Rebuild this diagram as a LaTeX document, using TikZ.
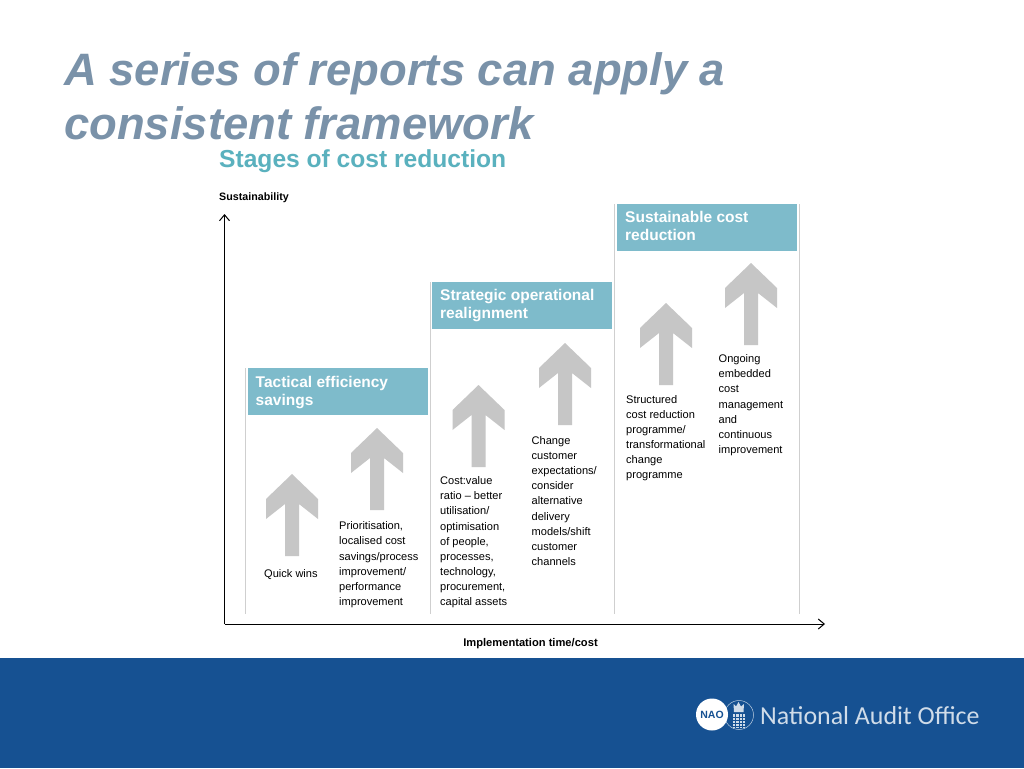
\documentclass[tikz,border=0pt]{standalone}
\usepackage{fontspec}
\setmainfont{Liberation Sans}
\newfontfamily\logofont{Carlito}
\definecolor{titleblue}{HTML}{7A92A9}
\definecolor{subteal}{HTML}{5AB1BE}
\definecolor{headteal}{HTML}{7EBBCB}
\definecolor{arrowgrey}{HTML}{C6C6C6}
\definecolor{sepgrey}{HTML}{CFCFCF}
\definecolor{bandblue}{HTML}{165192}
\newcommand{\fs}[1]{\fontsize{#1}{#1}\selectfont}
\usetikzlibrary{arrows.meta}
\tikzset{
  x=1pt,y=-1pt,
  titletext/.style={anchor=base west,inner sep=0,text=titleblue,font=\fs{45.4}\bfseries\itshape},
  headbox/.style={fill=headteal,minimum width=180pt,minimum height=47pt,anchor=north west,inner sep=0},
  headtext/.style={anchor=north west,inner sep=0,text=white,align=left,font=\fs{15.5}\bfseries,execute at begin node={\baselineskip=18pt}},
  bodytext/.style={anchor=north west,inner sep=0,align=left,text=black,font=\fs{11.05},execute at begin node={\baselineskip=15.18pt}},
  axislabel/.style={inner sep=0,text=black},
  sepline/.style={draw=sepgrey,line width=1pt},
  axisline/.style={draw=black,line width=1pt,-{Straight Barb[length=6pt,width=10pt]}},
  uparrow/.pic={\fill[arrowgrey] (0,0)--(26,25)--(26,45)--(7,30)--(7,82)--(-7,82)--(-7,30)--(-26,45)--(-26,25)--cycle;},
  crestline/.style={draw=bandblue,line width=.4pt}
}
\begin{document}
\begin{tikzpicture}
\useasboundingbox (0,0) rectangle (1024,768);
\fill[white] (0,0) rectangle (1024,768);
\fill[bandblue] (0,658) rectangle (1024,768);
\node[titletext] (t1) at (64,85) {A series of reports can apply a};
\node[titletext] (t2) at (64,139) {consistent framework};
\node[anchor=base west,inner sep=0,text=subteal,font=\fs{24.6}\bfseries] (sub) at (219,167) {Stages of cost reduction};
\node[axislabel,anchor=base west,font=\fs{10.7}\bfseries] (ylab) at (219,200) {Sustainability};
\node[axislabel,anchor=base,font=\fs{11.15}\bfseries] (xlab) at (530.5,646) {Implementation time/cost};
% separators
\coordinate (s1t) at (245.5,368); \coordinate (s1b) at (245.5,614);
\coordinate (s2t) at (430.5,282); \coordinate (s2b) at (430.5,614);
\coordinate (s3t) at (614.5,204); \coordinate (s3b) at (614.5,614);
\coordinate (s4t) at (799.2,204); \coordinate (s4b) at (799.2,614);
\draw[sepline] (s1t)--(s1b);
\draw[sepline] (s2t)--(s2b);
\draw[sepline] (s3t)--(s3b);
\draw[sepline] (s4t)--(s4b);
% axes
\coordinate (o) at (224.5,624); \coordinate (ya) at (224.5,214); \coordinate (xa) at (825,624);
\draw[axisline] (o)--(ya);
\draw[axisline] (o)--(xa);
% headers
\node[headbox] (h1) at (248,368) {};
\node[headbox] (h2) at (432,282) {};
\node[headbox] (h3) at (617,204) {};
\node[headtext] (h1t) at (255.5,375.7) {Tactical efficiency\\savings};
\node[headtext] (h2t) at (440,289.3) {Strategic operational\\realignment};
\node[headtext] (h3t) at (625,211.5) {Sustainable cost\\reduction};
% arrows
\pic at (292,474) {uparrow};
\pic at (377,428) {uparrow};
\pic at (478.5,385) {uparrow};
\pic at (565,343) {uparrow};
\pic at (666,303) {uparrow};
\pic at (751,263) {uparrow};
% body
\node[bodytext] (b1) at (264,569.5) {Quick wins};
\node[bodytext] (b2) at (339,521.5) {Prioritisation,\\localised cost\\savings/process\\improvement/\\performance\\improvement};
\node[bodytext] (b3) at (440,476.3) {Cost:value\\ratio – better\\utilisation/\\optimisation\\of people,\\processes,\\technology,\\procurement,\\capital assets};
\node[bodytext] (b4) at (531.5,436) {Change\\customer\\expectations/\\consider\\alternative\\delivery\\models/shift\\customer\\channels};
\node[bodytext] (b5) at (626,394.8) {Structured\\cost reduction\\programme/\\transformational\\change\\programme};
\node[bodytext] (b6) at (718.5,354.3) {Ongoing\\embedded\\cost\\management\\and\\continuous\\improvement};
% logo
\node[circle,draw=white!70!bandblue,line width=.5pt,minimum size=29pt,inner sep=0] (crest) at (739,715) {};
\node[circle,fill=white,minimum size=32pt,inner sep=0,text=bandblue,font=\fs{10.5}\bfseries] (nao) at (712,714.5) {NAO};
% crown
\fill[white!80!bandblue] (734,712)--(733.5,704)--(736,706.5)--(738.5,702)--(741,706.5)--(744,704)--(743.5,712)--cycle;
% portcullis
\fill[white!80!bandblue] (733,714) rectangle (744.5,728);
\foreach \x in {735.5,738.8,742}{\draw[crestline] (\x,714)--(\x,728);}
\foreach \y in {717,720,723,726}{\draw[crestline] (733,\y)--(744.5,\y);}
\node[anchor=base west,inner sep=0,text=white!80!bandblue,font=\logofont\fs{25.9}] (logo) at (760,724) {National Audit Office};
\end{tikzpicture}
\end{document}
